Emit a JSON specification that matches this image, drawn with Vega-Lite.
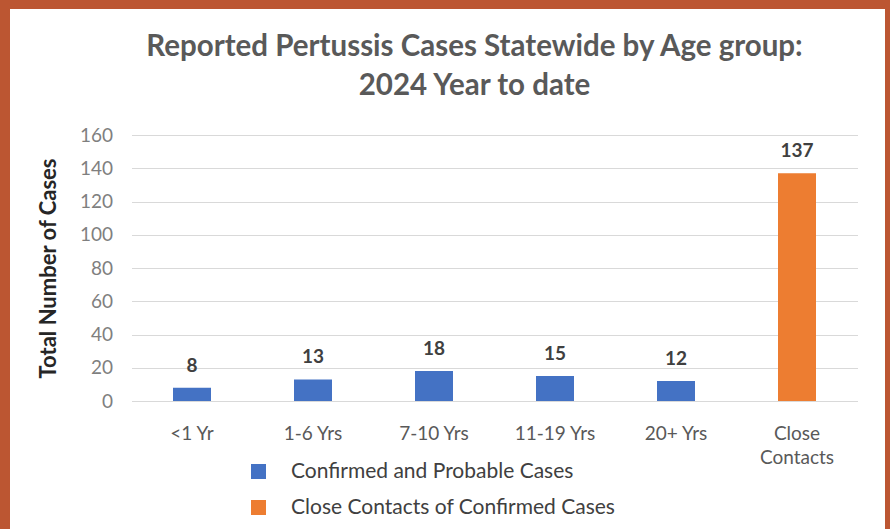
{
  "$schema": "https://vega.github.io/schema/vega-lite/v6.json",
  "autosize": "none",
  "width": 875,
  "height": 520,
  "padding": {"left": 10, "top": 9, "right": 5, "bottom": 0},
  "background": "#BC5632",
  "config": {
    "view": {"fill": "#FFFFFF", "stroke": null},
    "font": "Lato"
  },
  "title": {
    "text": ["Reported Pertussis Cases Statewide by Age group:", "2024 Year to date"],
    "font": "Lato",
    "fontSize": 29.5,
    "fontWeight": "bold",
    "color": "#595959",
    "lineHeight": 39,
    "anchor": "middle",
    "baseline": "top",
    "offset": -92,
    "dx": 27
  },
  "data": {
    "values": [
      {"group": "<1 Yr", "cases": 8, "series": "Confirmed and Probable Cases"},
      {"group": "1-6 Yrs", "cases": 13, "series": "Confirmed and Probable Cases"},
      {"group": "7-10 Yrs", "cases": 18, "series": "Confirmed and Probable Cases"},
      {"group": "11-19 Yrs", "cases": 15, "series": "Confirmed and Probable Cases"},
      {"group": "20+ Yrs", "cases": 12, "series": "Confirmed and Probable Cases"},
      {"group": "Close Contacts", "cases": 137, "series": "Close Contacts of Confirmed Cases"}
    ]
  },
  "encoding": {
    "x": {
      "field": "group",
      "type": "nominal",
      "sort": null,
      "scale": {"range": [121.5, 847.5], "paddingInner": 0.686, "paddingOuter": 0.343},
      "axis": {
        "title": null,
        "orient": "bottom",
        "offset": -128,
        "domainColor": "#D9D9D9",
        "domainWidth": 1,
        "ticks": false,
        "tickSize": 0,
        "labelPadding": 23,
        "labelAngle": 0,
        "labelFont": "Lato",
        "labelFontSize": 19,
        "labelColor": "#595959",
        "labelBaseline": "top",
        "labelLineHeight": 24,
        "labelExpr": "datum.label == 'Close Contacts' ? ['Close', 'Contacts'] : datum.label"
      }
    },
    "y": {
      "field": "cases",
      "type": "quantitative",
      "scale": {"domain": [0, 160], "range": [392, 126], "nice": false},
      "axis": {
        "title": "Total Number of Cases",
        "orient": "left",
        "offset": -121.5,
        "values": [0, 20, 40, 60, 80, 100, 120, 140, 160],
        "domain": false,
        "ticks": false,
        "tickSize": 0,
        "grid": true,
        "gridColor": "#D9D9D9",
        "gridWidth": 1,
        "labelPadding": 19,
        "labelFont": "Lato",
        "labelFontSize": 19,
        "labelColor": "#7F7F7F",
        "titleFont": "Lato",
        "titleFontSize": 22,
        "titleFontWeight": "bold",
        "titleColor": "#262626",
        "titlePadding": 19
      }
    }
  },
  "layer": [
    {
      "mark": {"type": "bar"},
      "encoding": {
        "color": {
          "field": "series",
          "type": "nominal",
          "scale": {
            "domain": ["Confirmed and Probable Cases", "Close Contacts of Confirmed Cases"],
            "range": ["#4472C4", "#ED7D31"]
          },
          "legend": {
            "title": null,
            "orient": "none",
            "legendX": 238,
            "legendY": 452,
            "symbolType": "square",
            "symbolSize": 225,
            "symbolStrokeWidth": 0,
            "labelFont": "Lato",
            "labelFontSize": 21,
            "labelColor": "#404040",
            "labelOffset": 22,
            "rowPadding": 14,
            "labelLimit": 500
          }
        }
      }
    },
    {
      "mark": {"type": "text", "baseline": "alphabetic", "dy": -16, "font": "Lato", "fontSize": 19, "fontWeight": "bold", "color": "#404040"},
      "encoding": {
        "text": {"field": "cases", "type": "quantitative"}
      }
    }
  ]
}
